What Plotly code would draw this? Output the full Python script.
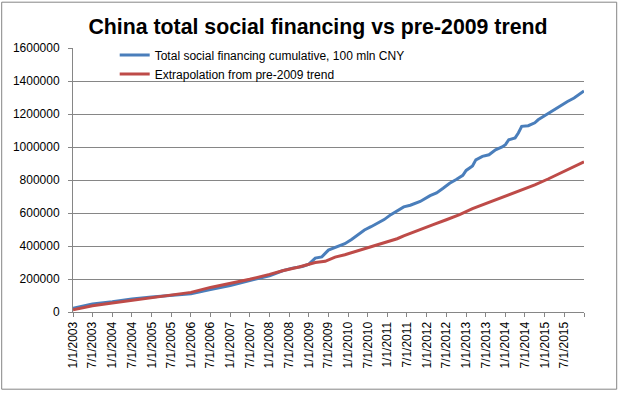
import plotly.graph_objects as go
import pandas as pd

# ---- data ----
start = pd.Timestamp("2003-01-01")

tsf_months = [0, 6, 12, 18, 24, 30, 36, 42, 48, 54, 60, 64, 67, 70, 72, 74, 76, 78, 80, 83,
              85, 87, 89, 91, 93, 95, 97, 99, 101, 103, 106, 109, 111, 113, 115, 117, 119, 120,
              122, 123, 125, 127, 129, 131, 132, 133, 135, 136, 137, 139, 141, 142, 144, 145,
              147, 149, 151, 153, 154, 156]
tsf_values = [22000, 48000, 62000, 79000, 91000, 100000, 111000, 136000, 160000, 191000,
              220000, 250000, 266000, 276000, 290000, 327000, 334000, 375000, 392000, 414000,
              440000, 470000, 497000, 517000, 540000, 560000, 590000, 612000, 637000, 647000,
              670000, 705000, 722000, 750000, 780000, 803000, 828000, 858000, 885000, 922000,
              943000, 953000, 983000, 1000000, 1014000, 1044000, 1055000, 1085000, 1125000,
              1129000, 1147000, 1165000, 1190000, 1206000, 1227000, 1252000, 1276000, 1297000,
              1311000, 1340000]

trend_months = [0, 6, 12, 18, 24, 30, 36, 42, 48, 54, 60, 64, 69, 72, 74, 77, 80, 83, 87, 91,
                95, 99, 101, 105, 107, 110, 114, 118, 122, 126, 130, 134, 137, 141, 145, 149,
                153, 156]
trend_values = [14000, 38000, 54000, 70000, 87000, 100000, 119000, 149000, 172000, 198000,
                228000, 250000, 273000, 287000, 300000, 307000, 333000, 347000, 371000, 398000,
                418000, 444000, 462000, 490000, 505000, 529000, 559000, 590000, 626000, 656000,
                686000, 718000, 737000, 771000, 806000, 842000, 882000, 910000]

series_names = ["Total social financing cumulative, 100 mln CNY",
                "Extrapolation from pre-2009 trend"]
title_text = "China total social financing vs pre-2009 trend"

tick_dates = pd.date_range("2003-01-01", "2016-01-01", freq="6MS")
tick_labels = [f"{d.month}/{d.day}/{d.year}" for d in tick_dates[:-1]] + [""]
y_ticks = list(range(0, 1600001, 200000))


def to_dates(months):
    return [start + pd.DateOffset(months=m) for m in months]


FONT = "Liberation Sans, Arial, sans-serif"
GREY = "#868686"

fig = go.Figure()
fig.add_trace(go.Scatter(x=to_dates(tsf_months), y=tsf_values, mode="lines",
                         name=series_names[0], line=dict(color="#4A7EBB", width=3)))
fig.add_trace(go.Scatter(x=to_dates(trend_months), y=trend_values, mode="lines",
                         name=series_names[1], line=dict(color="#BE4B48", width=3)))

W, H = 619, 393
L, R, T, B = 73.3, 584.3, 48.3, 312.3

fig.update_layout(
    width=W, height=H,
    margin=dict(l=L, r=W - R, t=T, b=H - B, pad=0),
    paper_bgcolor="white", plot_bgcolor="white",
    font=dict(family=FONT, size=12, color="black"),
    title=dict(text="<b>" + title_text + "</b>", x=318 / W, xanchor="center",
               y=1 - 27 / H, yanchor="middle",
               font=dict(size=21.3, family=FONT, color="black")),
    showlegend=True,
    legend=dict(x=(115 - L) / (R - L), y=1.028, xanchor="left", yanchor="top",
                bgcolor="rgba(0,0,0,0)", font=dict(size=12, family=FONT),
                itemwidth=30, tracegroupgap=0),
    xaxis=dict(type="date", range=[tick_dates[0], tick_dates[-1]],
               tickmode="array", tickvals=list(tick_dates), ticktext=tick_labels,
               tickangle=-90, ticks="outside", ticklen=4, tickcolor=GREY,
               showline=True, linecolor=GREY, linewidth=1, showgrid=False,
               zeroline=False, tickfont=dict(size=12, family=FONT, color="black")),
    yaxis=dict(range=[0, 1600000], tickmode="array", tickvals=y_ticks,
               ticktext=[str(v) for v in y_ticks],
               ticks="outside", ticklen=4, tickcolor=GREY, ticklabelstandoff=6,
               showline=True, linecolor=GREY, linewidth=1,
               showgrid=True, gridcolor=GREY, gridwidth=1, zeroline=False,
               tickfont=dict(size=12, family=FONT, color="black")),
)

# outer chart border (Excel chart area frame)
fig.add_shape(type="rect", xref="paper", yref="paper",
              x0=(2 - L) / (R - L), x1=(617 - L) / (R - L),
              y0=(B - 389.5) / (B - T), y1=(B - 2.5) / (B - T),
              line=dict(color=GREY, width=1), fillcolor="rgba(0,0,0,0)", layer="below")

fig.write_html("out.html", config={"displayModeBar": False},
               post_script="document.body.style.margin='0';")
